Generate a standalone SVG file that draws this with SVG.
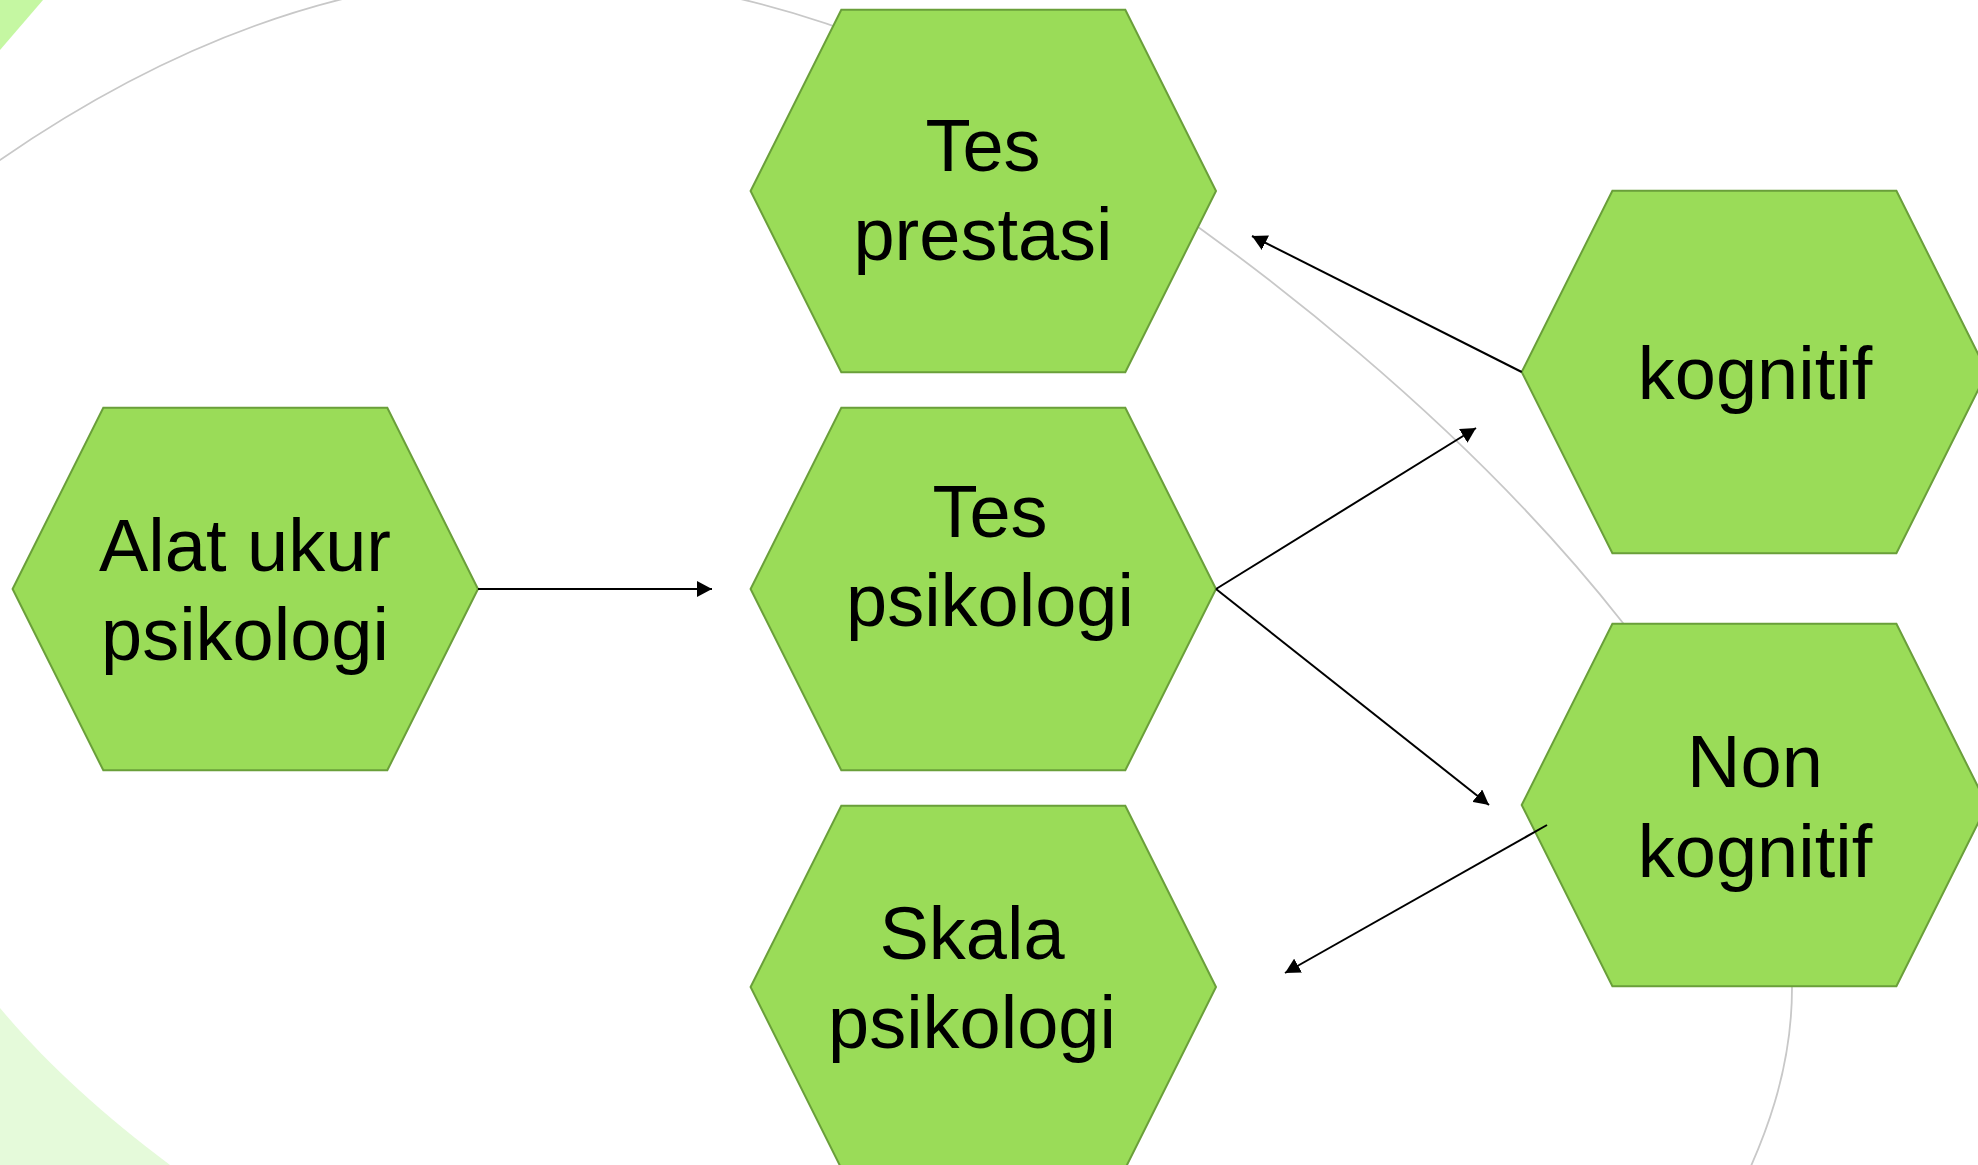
<svg xmlns="http://www.w3.org/2000/svg" width="1978" height="1165" viewBox="0 0 1978 1165">
  <defs>
    <style>
      .hex { fill: #9ADC58; stroke: #6A9F3A; stroke-width: 2; }
      .lbl { font-family: "Liberation Sans", Arial, sans-serif; font-size: 74px; fill: #000; text-anchor: middle; }
      .conn { stroke: #000; stroke-width: 2; fill: none; marker-end: url(#arrow); }
      .arc { stroke: #C8C8C8; stroke-width: 1.8; fill: none; }
    </style>
    <marker id="arrow" markerUnits="userSpaceOnUse" markerWidth="16" markerHeight="16" refX="15" refY="8" orient="auto">
      <path d="M0,0 L15,8 L0,16 Z" fill="#000"/>
    </marker>
    <polygon id="hexshape" points="-232.7,0 -142,-181.3 142,-181.3 232.7,0 142,181.3 -142,181.3"/>
  </defs>

  <rect x="0" y="0" width="1978" height="1165" fill="#FFFFFF"/>

  <g id="decoration">
    <polygon points="0,0 43,0 0,50" fill="#C5F7A2"/>
    <path d="M0,1008 C45,1062 100,1112 170,1165 L0,1165 Z" fill="#E5FADA"/>
    <path class="arc" d="M-60,200 Q0,160 0,160 Q268,-25 535,-25 Q802,-25 1060,135 C1255,255 1475,434 1623,623 C1703,725 1792,858 1792,988 C1792,1070 1765,1140 1735,1200"/>
  </g>

  <g id="node-alat-ukur">
    <use href="#hexshape" class="hex" transform="translate(245.3,589)"/>
    <text class="lbl" x="245" y="571">Alat ukur</text>
    <text class="lbl" x="245" y="660">psikologi</text>
  </g>

  <g id="node-tes-prestasi">
    <use href="#hexshape" class="hex" transform="translate(983.3,191)"/>
    <text class="lbl" x="983" y="171">Tes</text>
    <text class="lbl" x="983" y="260">prestasi</text>
  </g>

  <g id="node-tes-psikologi">
    <use href="#hexshape" class="hex" transform="translate(983.3,589)"/>
    <text class="lbl" x="990" y="537">Tes</text>
    <text class="lbl" x="990" y="626">psikologi</text>
  </g>

  <g id="node-skala-psikologi">
    <use href="#hexshape" class="hex" transform="translate(983.3,987)"/>
    <text class="lbl" x="972" y="959">Skala</text>
    <text class="lbl" x="972" y="1048">psikologi</text>
  </g>

  <g id="node-kognitif">
    <use href="#hexshape" class="hex" transform="translate(1754.4,372)"/>
    <text class="lbl" x="1755" y="399">kognitif</text>
  </g>

  <g id="node-non-kognitif">
    <use href="#hexshape" class="hex" transform="translate(1754.4,805)"/>
    <text class="lbl" x="1755" y="787">Non</text>
    <text class="lbl" x="1755" y="877">kognitif</text>
  </g>

  <g id="connectors">
    <line class="conn" x1="478" y1="589" x2="712" y2="589"/>
    <line class="conn" x1="1216" y1="589" x2="1476" y2="428"/>
    <line class="conn" x1="1216" y1="589" x2="1489" y2="805"/>
    <line class="conn" x1="1521.7" y1="372" x2="1252" y2="236"/>
    <line class="conn" x1="1547" y1="825" x2="1285" y2="973"/>
  </g>
</svg>
